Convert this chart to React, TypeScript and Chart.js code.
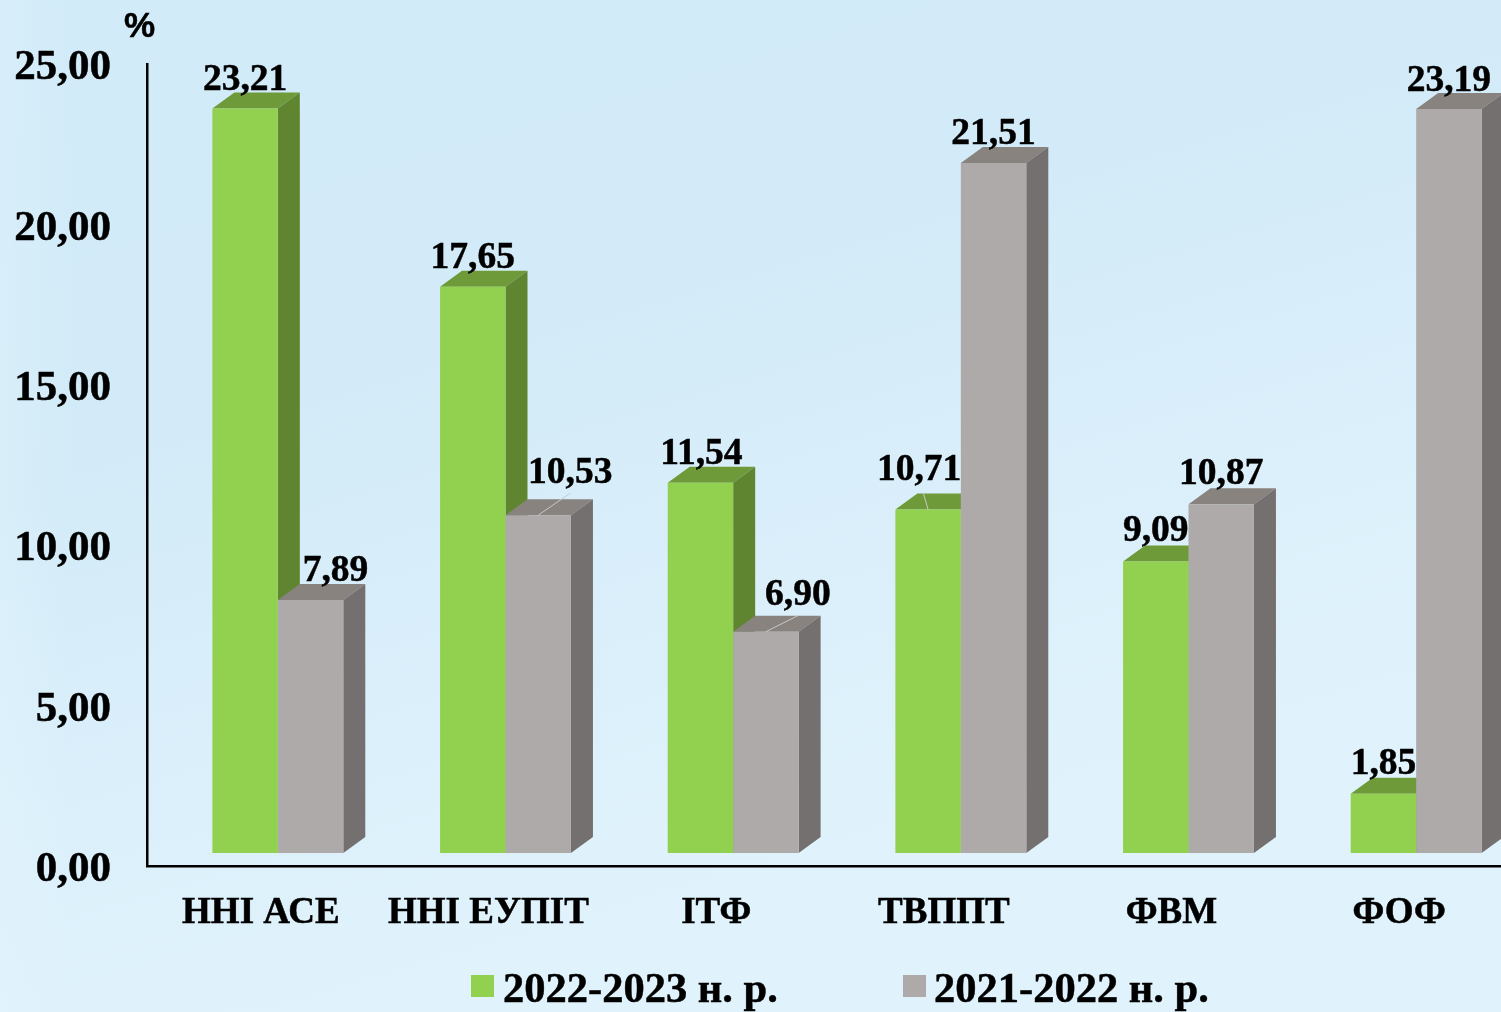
import React, { useEffect, useRef } from "react";
import { Chart, registerables } from "chart.js";

Chart.register(...registerables);

const categories = ["ННІ АСЕ", "ННІ ЕУПІТ", "ІТФ", "ТВППТ", "ФВМ", "ФОФ"];
const seriesNames = ["2022-2023 н. р.", "2021-2022 н. р."];
const values2022 = [23.21, 17.65, 11.54, 10.71, 9.09, 1.85];
const values2021 = [7.89, 10.53, 6.9, 21.51, 10.87, 23.19];

const SERIF = '"Liberation Serif", "Times New Roman", serif';
const SANS = '"Liberation Sans", Arial, sans-serif';
const DEPTH_X = 22;
const DEPTH_Y = 16;
const SHIFT_X = 17;
const SHIFT_Y = -13;
const FRONT = ["#92d050", "#aeaaaa"];
const SIDE = ["#5f8531", "#747070"];
const TOP = ["#6f9a3a", "#88837f"];
const STROKE = 0.5;

// label placement relative to the top-centre of each bar's front face: [dx, gap above], per series
const LABEL_OFFSET = [
  [[0, 18], [0, 19], [1, 19], [-9, 29], [0, 20], [0, 20]],
  [[25, 19], [32, 32], [32, 27], [0, 19], [0, 20], [0, 18]],
];
// leader lines: [series, category, dx end, dy end]
const LEADERS = [
  [1, 1, 32, 22],
  [1, 2, 32, 16],
  [0, 3, -5, 17],
];

const fmt = (v: number) => v.toFixed(2).replace(".", ",");

const threeD = {
  id: "threeD",
  beforeDraw(chart: any) {
    const { ctx, width, height } = chart;
    const g = ctx.createLinearGradient(0, 0, 300, height);
    g.addColorStop(0, "#d2ebf9");
    g.addColorStop(0.45, "#d3ebf8");
    g.addColorStop(0.8, "#dcf0fb");
    g.addColorStop(1, "#e0f3fc");
    ctx.save();
    ctx.fillStyle = g;
    ctx.fillRect(0, 0, width, height);
    const edge = ctx.createLinearGradient(0, 0, 70, 0);
    edge.addColorStop(0, "rgba(235,250,255,0.22)");
    edge.addColorStop(1, "rgba(235,250,255,0)");
    ctx.fillStyle = edge;
    ctx.fillRect(0, 0, 70, height);
    ctx.restore();
  },
  beforeDatasetsDraw(chart: any) {
    const { ctx } = chart;
    ctx.save();
    ctx.translate(SHIFT_X, SHIFT_Y);
    chart.data.datasets.forEach((_: any, di: number) => {
      chart.getDatasetMeta(di).data.forEach((bar: any) => {
        const l = bar.x - bar.width / 2;
        const r = bar.x + bar.width / 2;
        const t = bar.y;
        const b = bar.base;
        ctx.fillStyle = TOP[di];
        ctx.beginPath();
        ctx.moveTo(l, t);
        ctx.lineTo(l + DEPTH_X, t - DEPTH_Y);
        ctx.lineTo(r + DEPTH_X, t - DEPTH_Y);
        ctx.lineTo(r, t);
        ctx.closePath();
        ctx.fill();
        ctx.fillStyle = SIDE[di];
        ctx.beginPath();
        ctx.moveTo(r, t);
        ctx.lineTo(r + DEPTH_X, t - DEPTH_Y);
        ctx.lineTo(r + DEPTH_X, b - DEPTH_Y);
        ctx.lineTo(r, b);
        ctx.closePath();
        ctx.fill();
      });
    });
  },
  afterDatasetsDraw(chart: any) {
    chart.ctx.restore();
  },
  afterDraw(chart: any) {
    const { ctx } = chart;
    ctx.save();
    // leader lines
    ctx.strokeStyle = "#c9c9c9";
    ctx.lineWidth = 1;
    LEADERS.forEach(([di, i, dx, dy]) => {
      const bar = chart.getDatasetMeta(di).data[i];
      const x = bar.x + SHIFT_X;
      const y = bar.y + SHIFT_Y;
      ctx.beginPath();
      ctx.moveTo(x, y);
      ctx.lineTo(x + dx, y - dy);
      ctx.stroke();
    });
    // value labels
    ctx.fillStyle = "#000";
    ctx.strokeStyle = "#000";
    ctx.lineWidth = STROKE;
    ctx.font = `bold 37.5px ${SERIF}`;
    ctx.textAlign = "center";
    ctx.textBaseline = "alphabetic";
    chart.data.datasets.forEach((ds: any, di: number) => {
      chart.getDatasetMeta(di).data.forEach((bar: any, i: number) => {
        const [dx, gap] = LABEL_OFFSET[di][i];
        const tx = bar.x + SHIFT_X + dx;
        const ty = bar.y + SHIFT_Y - gap;
        ctx.fillText(fmt(ds.data[i]), tx, ty);
        ctx.strokeText(fmt(ds.data[i]), tx, ty);
      });
    });
    // unit
    ctx.font = `bold 35px ${SANS}`;
    ctx.textAlign = "left";
    ctx.fillText("%", 124, 37);
    ctx.strokeText("%", 124, 37);
    // legend
    const boxes = [471, 903];
    const texts = [503, 934];
    chart.data.datasets.forEach((ds: any, di: number) => {
      ctx.fillStyle = ds.backgroundColor;
      ctx.fillRect(boxes[di], 975, 23, 22);
      ctx.fillStyle = "#000";
      ctx.font = `bold 42.5px ${SERIF}`;
      ctx.fillText(ds.label, texts[di], 1002);
      ctx.strokeText(ds.label, texts[di], 1002);
    });
    ctx.restore();
  },
};

export default function App() {
  const ref = useRef<HTMLCanvasElement>(null);
  useEffect(() => {
    const chart = new Chart(ref.current as HTMLCanvasElement, {
      type: "bar",
      data: {
        labels: categories,
        datasets: [
          { label: seriesNames[0], data: values2022, backgroundColor: FRONT[0], borderWidth: 0 },
          { label: seriesNames[1], data: values2021, backgroundColor: FRONT[1], borderWidth: 0 },
        ],
      },
      options: {
        responsive: false,
        animation: false,
        layout: { padding: { top: 64, right: 17, left: 0, bottom: 0 } },
        datasets: { bar: { categoryPercentage: 0.575, barPercentage: 1 } },
        plugins: { legend: { display: false }, title: { display: false }, tooltip: { enabled: false } },
        scales: {
          x: {
            afterFit(scale: any) {
              scale.height = 146;
            },
            grid: { display: false, drawTicks: false },
            border: { display: true, color: "#000", width: 2.5 },
            ticks: {
              color: "#000",
              padding: 25,
              maxRotation: 0,
              autoSkip: false,
              textStrokeColor: "#000",
              textStrokeWidth: STROKE,
              font: { family: SERIF, size: 37, weight: "bold" },
            },
          },
          y: {
            min: 0,
            max: 25,
            afterFit(scale: any) {
              scale.width = 147;
            },
            grid: { display: false, drawTicks: false },
            border: { display: true, color: "#000", width: 2.5 },
            ticks: {
              stepSize: 5,
              color: "#000",
              padding: 36,
              labelOffset: 4,
              textStrokeColor: "#000",
              textStrokeWidth: STROKE,
              font: { family: SERIF, size: 43, weight: "bold" },
              callback: (v: any) => fmt(Number(v)),
            },
          },
        },
      },
      plugins: [threeD],
    } as any);
    return () => chart.destroy();
  }, []);
  return (
    <div style={{ position: "absolute", left: 0, top: 0, width: 1501, height: 1012, overflow: "hidden" }}>
      <canvas ref={ref} width={1530} height={1012} style={{ display: "block" }} />
    </div>
  );
}
